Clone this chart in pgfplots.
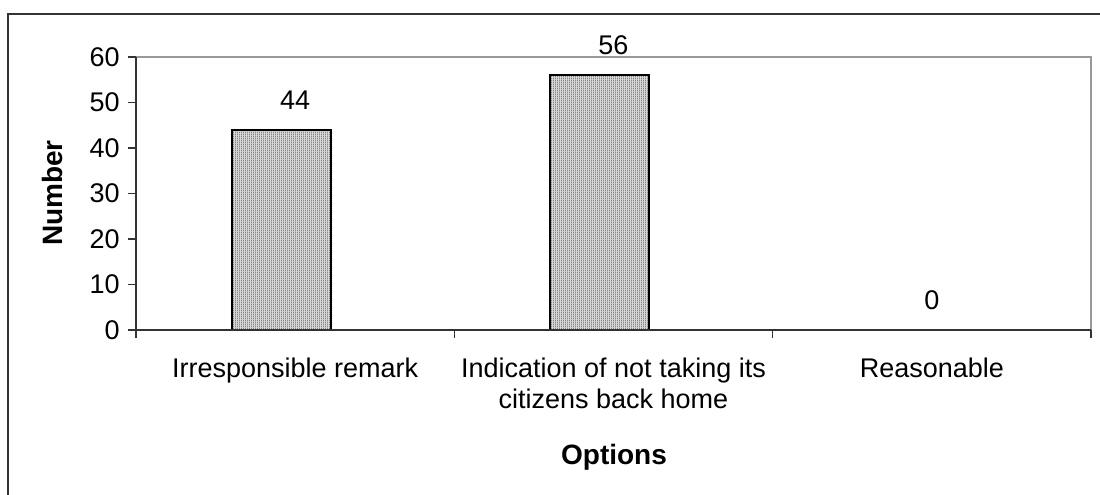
\documentclass[border=0pt]{standalone}
\usepackage{pgfplots}
\pgfplotsset{compat=1.18}
\usepackage{fontspec}
\setmainfont{Liberation Sans}
\usetikzlibrary{patterns.meta}

\definecolor{axisdark}{HTML}{333333}
\definecolor{axisgray}{HTML}{999999}
\definecolor{barbase}{HTML}{D8D8D8}
\definecolor{barline}{HTML}{888888}

% fine vertical hatching used inside the bars
\tikzdeclarepattern{
  name=vstripes,
  type=uncolored,
  bounding box={(0pt,0pt) and (1.1pt,1pt)},
  tile size={(1.1pt,1pt)},
  code={
    \pgfsetlinewidth{0.5pt}
    \pgfpathmoveto{\pgfpoint{0.3pt}{-0.1pt}}
    \pgfpathlineto{\pgfpoint{0.3pt}{1.1pt}}
    \pgfusepath{stroke}
  }
}

\begin{document}
\begin{tikzpicture}
\path[use as bounding box] (0,0) rectangle (550pt,247pt);
% outer chart frame
\draw[axisdark, line width=0.9pt] (4pt,-1pt) -- (4pt,240pt) -- (551pt,240pt);

\begin{axis}[
  at={(68pt,82pt)}, anchor=south west,
  scale only axis, width=477.5pt, height=136.5pt,
  xmin=0, xmax=3, ymin=0, ymax=60,
  ybar, bar width=49.5pt, bar shift=-7pt,
  axis line style={draw=none},
  xtick={0.5,1.5,2.5},
  xticklabels={Irresponsible remark,{Indication of not taking its\\citizens back home},Reasonable},
  minor xtick={0,1,2,3},
  major x tick style={draw=none},
  ytick={0,10,20,30,40,50,60},
  xtick pos=bottom, ytick pos=left,
  tick align=outside,
  major tick length=4pt, minor tick length=4pt,
  every tick/.style={axisdark, line width=0.8pt},
  minor x tick style={axisdark, line width=0.8pt},
  tick label style={font=\fontsize{13.5}{15.5}\selectfont},
  yticklabel style={anchor=east, inner sep=0pt, xshift=-4pt},
  xticklabel style={anchor=north, inner sep=0pt, yshift=-10pt, align=center},
  /pgf/number format/assume math mode=true,
  nodes near coords,
  every node near coord/.style={anchor=center, yshift=15pt, font=\fontsize{13.5}{15.5}\selectfont, text=black},
  clip=false,
]
\addplot[draw=black, line width=1pt, fill=barbase,
  postaction={pattern=vstripes, pattern color=barline}]
  coordinates {(0.5,44) (1.5,56) (2.5,0)};
\draw[axisgray, line width=1.1pt] (rel axis cs:0,1) -- (rel axis cs:1,1) -- (rel axis cs:1,0);
\draw[axisdark, line width=1.1pt] (rel axis cs:0,1) -- (rel axis cs:0,0) -- (rel axis cs:1,0);
\end{axis}

\node[rotate=90, font=\bfseries\fontsize{14}{16}\selectfont] at (26pt,150.5pt) {Number};
\node[font=\bfseries\fontsize{14}{16}\selectfont] at (307pt,18.5pt) {Options};
\end{tikzpicture}
\end{document}
